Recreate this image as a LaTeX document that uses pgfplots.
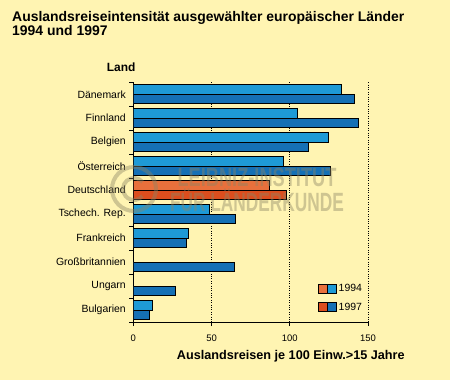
\documentclass[border=0pt]{standalone}
\usepackage{fontspec}
\setmainfont{Liberation Sans}
\usepackage{pgfplots}
\pgfplotsset{compat=1.18}
\definecolor{bg}{HTML}{FFF4B2}
\definecolor{bA}{HTML}{1E9AD6}
\definecolor{bB}{HTML}{1570B5}
\definecolor{oA}{HTML}{E8703C}
\definecolor{oB}{HTML}{DC4E1E}
\definecolor{wm}{HTML}{8C8464}
\begin{document}
\begin{tikzpicture}[x=1bp,y=1bp]
\fill[bg] (0,0) rectangle (450,380);
\useasboundingbox (0,0) rectangle (450,380);
\node[anchor=base west, font=\bfseries\fontsize{14}{16}\selectfont, inner sep=0] at (12,358.3) {Auslandsreiseintensität ausgewählter europäischer Länder};
\node[anchor=base west, font=\bfseries\fontsize{14}{16}\selectfont, inner sep=0] at (12,345) {1994 und 1997};
\node[anchor=base west, font=\bfseries\fontsize{12}{14}\selectfont, inner sep=0] at (106.7,308.3) {Land};
\node[anchor=base, font=\bfseries\fontsize{12.7}{14}\selectfont, inner sep=0] at (290.8,20.7) {Auslandsreisen je 100 Einw.>15 Jahre};
\begin{axis}[at={(133.3bp,58bp)}, anchor=south west, scale only axis,
  width=234.7bp, height=239.7bp,
  xbar, bar width=9.5bp,
  xmin=0, xmax=150, ymin=-0.5, ymax=9.5, y dir=reverse,
  axis x line*=bottom, axis y line*=left,
  axis line style={-, line width=0.8pt, black},
  xtick={0,50,100,150}, xmajorgrids,
  major grid style={dotted, black, line width=0.7pt},
  ytick={0,...,9},
  yticklabels={Dänemark,Finnland,Belgien,Österreich,Deutschland,Tschech. Rep.,Frankreich,Großbritannien,Ungarn,Bulgarien},
  major y tick style={draw=none},
  minor ytick={-0.5,0.5,...,9.5},
  minor y tick style={black, line width=0.6pt},
  major x tick style={black, line width=0.6pt},
  tick align=outside, major tick length=4bp, minor tick length=4bp,
  /pgf/number format/assume math mode=true,
  yticklabel style={font=\fontsize{10.5}{12}\selectfont},
  xticklabel style={font=\fontsize{9.5}{11}\selectfont, yshift=-5bp},
  legend style={at={(0.787,0.168)}, anchor=north west, draw=none, fill=none,
    font=\fontsize{10.5}{12}\selectfont, row sep=6bp, inner sep=0pt},
  legend cell align=left,
]
\addplot[xbar, bar shift=4.75bp, fill=bA, draw=black, line width=0.6pt, forget plot]
  coordinates {(133.2,0) (104.8,1) (124.6,2) (95.9,3) (48.8,5) (35.4,6) (12.4,9)};
\addplot[xbar, bar shift=-4.75bp, fill=bB, draw=black, line width=0.6pt, forget plot]
  coordinates {(141.5,0) (144.0,1) (111.8,2) (126.2,3) (65.4,5) (34.1,6) (64.8,7) (27.1,8) (10.5,9)};
\addplot[xbar, bar shift=4.75bp, fill=oA, draw=black, line width=0.6pt, forget plot]
  coordinates {(86.9,4)};
\addplot[xbar, bar shift=-4.75bp, fill=oB, draw=black, line width=0.6pt, forget plot]
  coordinates {(98.0,4)};
\addlegendimage{legend image code/.code={
  \draw[black, line width=0.5pt, fill=oA] (0bp,-4.5bp) rectangle (9bp,4.5bp);
  \draw[black, line width=0.5pt, fill=bA] (9bp,-4.5bp) rectangle (18bp,4.5bp);}}
\addlegendentry{1994}
\addlegendimage{legend image code/.code={
  \draw[black, line width=0.5pt, fill=oB] (0bp,-4.5bp) rectangle (9bp,4.5bp);
  \draw[black, line width=0.5pt, fill=bB] (9bp,-4.5bp) rectangle (18bp,4.5bp);}}
\addlegendentry{1997}
\end{axis}
\begin{scope}[opacity=0.42]
\node[text=wm, font=\bfseries\fontsize{26.5}{26.5}\selectfont, xscale=0.69, inner sep=0, anchor=base] at (257,193.5) {LEIBNIZ-INSTITUT};
\node[text=wm, font=\bfseries\fontsize{26.5}{26.5}\selectfont, xscale=0.655, inner sep=0, anchor=base] at (257,169) {FÜR LÄNDERKUNDE};
\draw[wm, line width=4] (134,191) circle (22);
\draw[wm, line width=4] (134,191) ++(40:11) arc (40:320:11);
\end{scope}
\end{tikzpicture}
\end{document}
